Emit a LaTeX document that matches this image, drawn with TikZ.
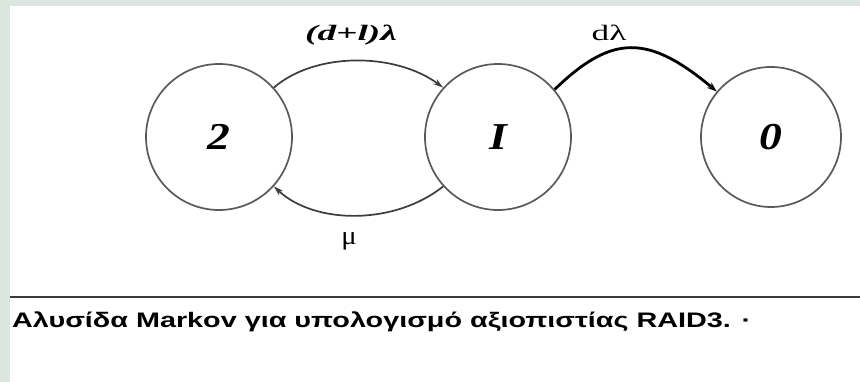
\documentclass[tikz,border=0pt]{standalone}
\usepackage{fontspec}
\setmainfont{Liberation Serif}
\newfontfamily\capfont{Liberation Sans}
\usetikzlibrary{arrows.meta}
\definecolor{bgstrip}{HTML}{DCE6E1}
\definecolor{circgray}{HTML}{5A5A5A}
\definecolor{arcgray}{HTML}{3C3C3C}
\tikzset{
  state/.style={circle, draw=circgray, line width=1.7pt, minimum size=146pt, inner sep=0pt,
    font=\fontsize{38}{40}\selectfont\bfseries\itshape},
  trans/.style={draw=arcgray, line width=1.7pt, -{Stealth[length=10pt,width=6pt]}},
  transbold/.style={draw=black, line width=2.8pt, -{Stealth[length=10pt,width=7pt]}},
  lab/.style={font=\fontsize{22}{24}\selectfont},
}
\begin{document}
\begin{tikzpicture}[x=1pt,y=-1pt]
\useasboundingbox (0,0) rectangle (860,382);
\fill[bgstrip] (0,0) rectangle (860,382);
\fill[white] (10,6) rectangle (860,382);

\node[state] (s2) at (219,137) {\scalebox{1.2}[1]{2}};
\node[state] (s1) at (498,137) {\scalebox{1.2}[1]{\textit{I}}};
\node[state, minimum size=140pt] (s0) at (771,137) {\scalebox{1.2}[1]{0}};

\draw[trans] (s2.42) .. controls (315,52) and (395,52) .. (s1.138);
\draw[transbold] (s1.40) .. controls (612,34) and (648,34) .. (s0.140);
\draw[trans] (s1.222) .. controls (395,225) and (315,225) .. (s2.318);

\node[lab, font=\fontsize{22}{24}\selectfont\bfseries\itshape] (la) at (351,35) {\scalebox{1.7}[1]{(d+l)λ}};
\node[lab] (lb) at (609,33) {\scalebox{1.6}[1]{dλ}};
\node[lab, font=\fontsize{26}{28}\selectfont] (lm) at (349,241) {\scalebox{1.1}[1]{μ}};

\coordinate (hl) at (10,297);
\coordinate (hr) at (860,297);
\draw[draw=arcgray, line width=2.4pt] (hl) -- (hr);

\node[anchor=west, inner sep=0pt, font=\capfont\bfseries\fontsize{21}{23}\selectfont] (cap) at (12,322)
  {\scalebox{1.37}[1]{Αλυσίδα Markov για υπολογισμό αξιοπιστίας RAID3. ·}};
\end{tikzpicture}
\end{document}
